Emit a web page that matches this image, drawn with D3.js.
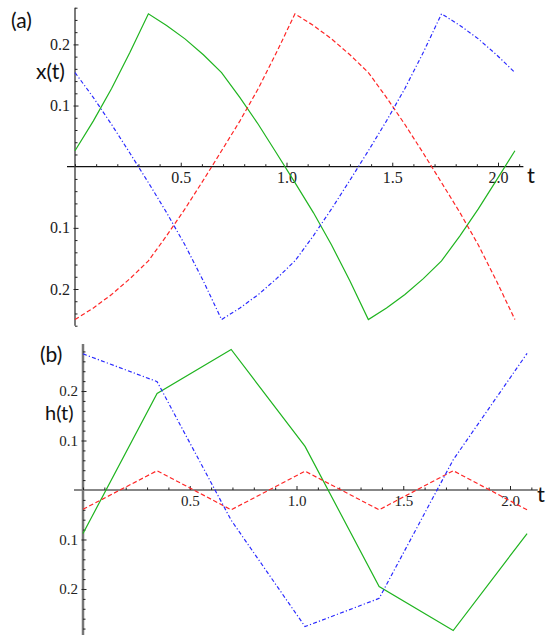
<!DOCTYPE html>
<html><head><meta charset="utf-8">
<script src="https://cdn.jsdelivr.net/npm/d3@7"></script>
<style>body{margin:0;background:#fff}svg{display:block}
.tick text{font-family:"Liberation Serif","Times New Roman","DejaVu Serif",serif !important}</style>
</head><body>
<script>
// ---- Data ----
const tA = [0, 0.087, 0.173, 0.26, 0.347, 0.433, 0.52, 0.607, 0.693, 0.78, 0.867, 0.953, 1.04,
            1.127, 1.213, 1.3, 1.387, 1.473, 1.56, 1.647, 1.733, 1.82, 1.907, 1.993, 2.08];
const xGreen = [0.026, 0.075, 0.128, 0.187, 0.250, 0.231, 0.209, 0.183, 0.154, 0.113, 0.069, 0.022, -0.026,
                -0.075, -0.128, -0.187, -0.250, -0.231, -0.209, -0.183, -0.154, -0.113, -0.069, -0.022, 0.026];
const xRed = [-0.250, -0.231, -0.209, -0.183, -0.154, -0.113, -0.069, -0.022, 0.026, 0.075, 0.128, 0.187, 0.250,
              0.231, 0.209, 0.183, 0.154, 0.113, 0.069, 0.022, -0.026, -0.075, -0.128, -0.187, -0.250];
const xBlue = [0.154, 0.113, 0.069, 0.022, -0.026, -0.075, -0.128, -0.187, -0.250, -0.231, -0.209, -0.183, -0.154,
               -0.113, -0.069, -0.022, 0.026, 0.075, 0.128, 0.187, 0.250, 0.231, 0.209, 0.183, 0.154];

const tB = [0, 0.347, 0.694, 1.04, 1.387, 1.734, 2.08];
const hGreen = [-0.088, 0.195, 0.284, 0.088, -0.195, -0.284, -0.088];
const hBlue  = [0.275, 0.219, -0.061, -0.276, -0.219, 0.061, 0.276];
const hRed   = [-0.039, 0.039, -0.040, 0.038, -0.040, 0.039, -0.040];

const xMajor = [0.5, 1.0, 1.5, 2.0];
const xMinor = [0, 0.1, 0.2, 0.3, 0.4, 0.6, 0.7, 0.8, 0.9, 1.1, 1.2, 1.3, 1.4, 1.6, 1.7, 1.8, 1.9, 2.1];
const yMajor = [-0.2, -0.1, 0.1, 0.2];

// ---- Drawing ----
const W = 551, H = 635;
const svg = d3.select("body").append("svg").attr("width", W).attr("height", H);

const colors = {green: "#1fb41f", red: "#ff2626", blue: "#2a2aff"};
const dashes = {green: null, red: "4.5,2.5", blue: "4,2.2,1.2,2.2"};

function panel(cfg) {
  const g = svg.append("g");
  const x = d3.scaleLinear().domain([0, 2.0]).range(cfg.xr);
  const y = d3.scaleLinear().domain(cfg.yd).range(cfg.yr);

  g.append("line").attr("x1", cfg.xAxisStart).attr("x2", x(cfg.xEnd))
    .attr("y1", y(0)).attr("y2", y(0)).attr("stroke", "#111").attr("stroke-width", 1.2);
  g.append("line").attr("x1", x(0)).attr("x2", x(0))
    .attr("y1", cfg.yr[0]).attr("y2", cfg.yr[1]).attr("stroke", cfg.yAxisColor).attr("stroke-width", cfg.yAxisWidth);

  const xa = g.append("g").attr("transform", `translate(0,${y(0)})`)
    .call(d3.axisBottom(x).tickValues(xMajor).tickSizeInner(-4).tickSizeOuter(0).tickPadding(cfg.xPad)
      .tickFormat(d3.format(".1f")));
  const xm = g.append("g").attr("transform", `translate(0,${y(0)})`)
    .call(d3.axisBottom(x).tickValues(xMinor).tickSizeInner(-2.5).tickSizeOuter(0).tickFormat(""));

  const yMinor = d3.range(-Math.floor(cfg.yd[1] * 50), Math.floor(cfg.yd[1] * 50) + 1)
    .map(k => k / 50).filter(v => Math.abs(v) > 1e-9 && Math.abs(Math.round(v * 10) - v * 10) > 1e-6);
  const ya = g.append("g").attr("transform", `translate(${x(0)},0)`)
    .call(d3.axisLeft(y).tickValues(yMajor).tickSizeInner(-3.5).tickSizeOuter(0).tickPadding(cfg.yPad)
      .tickFormat(v => d3.format(".1f")(Math.abs(v))));
  const ym = g.append("g").attr("transform", `translate(${x(0)},0)`)
    .call(d3.axisLeft(y).tickValues(yMinor).tickSizeInner(-2.5).tickSizeOuter(0).tickFormat(""));

  [xa, xm, ya, ym].forEach(a => {
    a.attr("font-family", "Liberation Serif").attr("font-size", cfg.tickFont);
    a.select(".domain").remove();
    a.selectAll(".tick line").attr("stroke", "#222").attr("stroke-width", 1);
    a.selectAll(".tick text").attr("fill", "#222")
      .attr("font-family", "Liberation Serif").attr("font-size", cfg.tickFont);
  });
  ya.selectAll(".tick line").attr("x1", -1.5);

  const line = d3.line().x(d => x(d[0])).y(d => y(d[1]));
  cfg.series.forEach(s => {
    g.append("path").datum(cfg.t.map((t, i) => [t, s.v[i]]))
      .attr("d", line).attr("fill", "none").attr("stroke", colors[s.c])
      .attr("stroke-width", 1.2).attr("stroke-dasharray", dashes[s.c]);
  });

  const sans = "Lato, 'Open Sans', 'Liberation Sans', sans-serif";
  g.append("text").attr("x", cfg.tag[0]).attr("y", cfg.tag[1]).text(cfg.tag[2])
    .attr("font-family", sans).attr("font-size", 21).attr("fill", "#111");
  g.append("text").attr("x", cfg.ylab[0]).attr("y", cfg.ylab[1]).text(cfg.ylab[2])
    .attr("font-family", sans).attr("font-size", cfg.ylab[3]).attr("fill", "#111");
  g.append("text").attr("x", cfg.tlab[0]).attr("y", cfg.tlab[1]).text("t")
    .attr("font-family", sans).attr("font-size", 22).attr("fill", "#111");
}

panel({
  xr: [75, 498], yd: [-0.26, 0.26], yr: [325.7, 7.7], xEnd: 2.12, xAxisStart: 67,
  yAxisColor: "#444", yAxisWidth: 1.4, xPad: 5, yPad: 5, tickFont: 16,
  t: tA,
  series: [{c: "green", v: xGreen}, {c: "red", v: xRed}, {c: "blue", v: xBlue}],
  tag: [11, 28, "(a)"], ylab: [36, 79, "x(t)", 21], tlab: [527, 183]
});

panel({
  xr: [83, 510], yd: [-0.295, 0.295], yr: [636, 344], xEnd: 2.13, xAxisStart: 74,
  yAxisColor: "#777", yAxisWidth: 2.5, xPad: 5, yPad: 5, tickFont: 15,
  t: tB,
  series: [{c: "green", v: hGreen}, {c: "red", v: hRed}, {c: "blue", v: hBlue}],
  tag: [40, 362, "(b)"], ylab: [45, 420, "h(t)", 20], tlab: [537, 502]
});
</script>
</body></html>
